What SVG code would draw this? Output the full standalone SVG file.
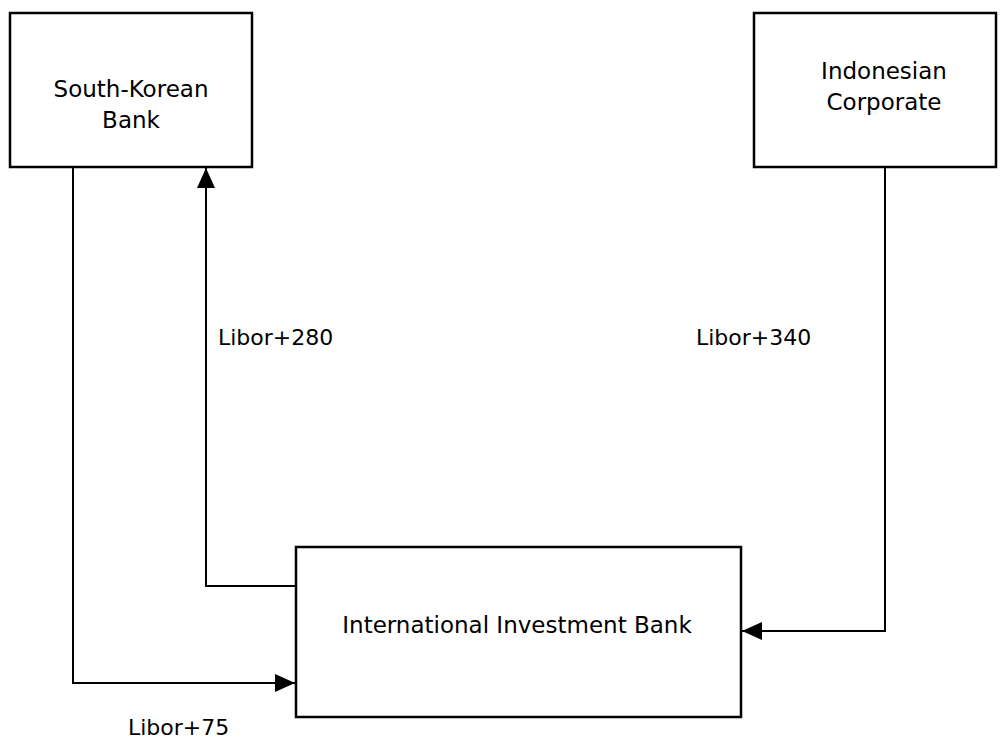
<svg xmlns="http://www.w3.org/2000/svg" width="1003" height="739" viewBox="0 0 1003 739">
<style>
.box{fill:#fff;stroke:#000;stroke-width:2.5}
.ln{fill:none;stroke:#000;stroke-width:2}
text{font-family:"DejaVu Sans","Liberation Sans",sans-serif;font-size:23px;fill:#000}
.lbl{font-size:22px}
.c{text-anchor:middle}
</style>
<defs>
<marker id="ahL" viewBox="0 0 20 20" refX="20" refY="10" markerWidth="20" markerHeight="20" markerUnits="userSpaceOnUse" orient="auto">
<path d="M0,1 L20,10 L0,19 Z" fill="#000"/>
</marker>
</defs>
<g id="connectors">
<path class="ln" d="M73,167 V683 H295" marker-end="url(#ahL)"/>
<path class="ln" d="M296,586 H206 V168" marker-end="url(#ahL)"/>
<path class="ln" d="M885,167 V631 H742" marker-end="url(#ahL)"/>
</g>
<g id="south-korean-bank">
<rect class="box" x="10" y="13" width="242" height="154"/>
<text class="c" x="131" y="97">South-Korean</text>
<text class="c" x="131" y="128">Bank</text>
</g>
<g id="indonesian-corporate">
<rect class="box" x="754" y="13" width="242" height="154"/>
<text class="c" x="884" y="79">Indonesian</text>
<text class="c" x="884" y="110">Corporate</text>
</g>
<g id="international-investment-bank">
<rect class="box" x="296" y="547" width="445" height="170"/>
<text class="c" x="517" y="633">International Investment Bank</text>
</g>
<g id="labels">
<text class="lbl" x="218" y="345">Libor+280</text>
<text class="lbl" x="696" y="345">Libor+340</text>
<text class="lbl" x="128" y="735">Libor+75</text>
</g>
</svg>
